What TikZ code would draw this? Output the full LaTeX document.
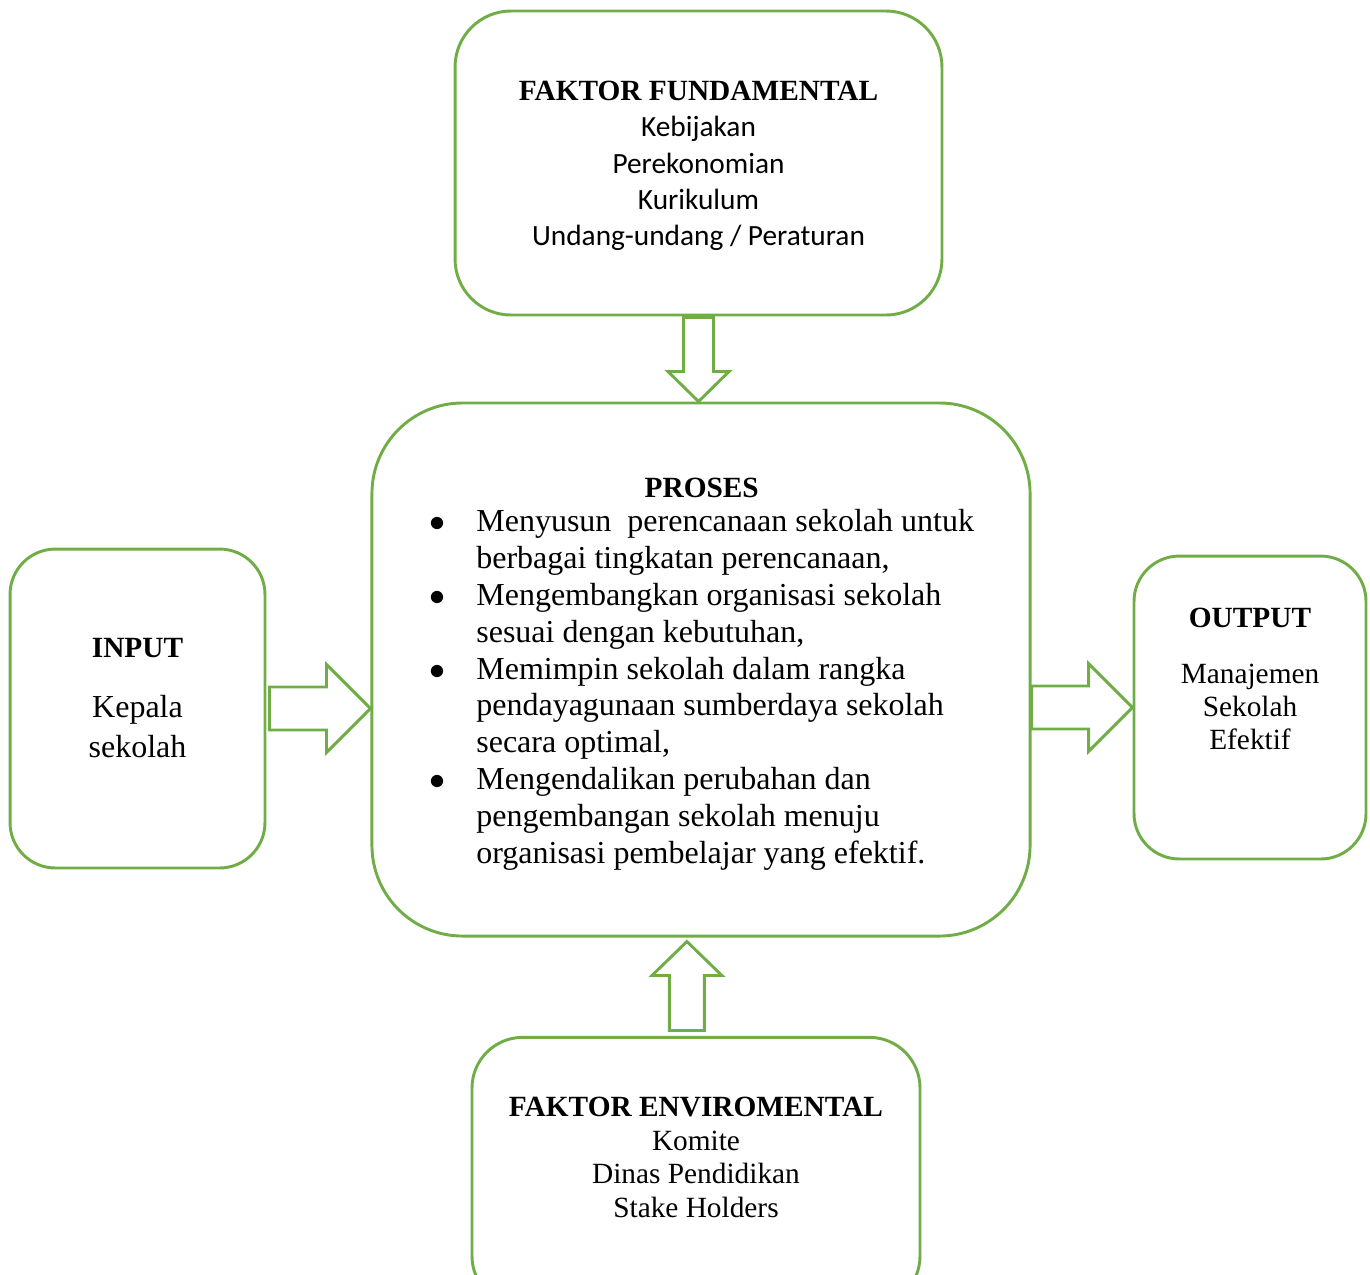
\documentclass[tikz,border=0pt]{standalone}
\usepackage{fontspec}
\setmainfont{Liberation Serif}
\newfontfamily\calibrifont{Carlito}
\definecolor{boxgreen}{RGB}{112,173,71}
\begin{document}
\begin{tikzpicture}
	[x=0.375pt, y=-0.375pt,
	every node/.style={inner sep=0pt, align=center},
	box/.style={draw=boxgreen, line width=1.1pt, rectangle},
	blockarrow/.style={draw=boxgreen, line width=1.1pt, line join=miter, fill=white}]
	\useasboundingbox (0,0) rectangle (1370,1274);
	% boxes
	\node [box, rounded corners=21pt, minimum width=182.6pt, minimum height=114pt] (fund) at (698.5,163) {};
	\node [box, rounded corners=34pt, minimum width=246.8pt, minimum height=199.9pt] (proses) at (701,669.5) {};
	\node [box, rounded corners=17pt, minimum width=95.6pt, minimum height=119.6pt] (input) at (137.5,708.5) {};
	\node [box, rounded corners=17pt, minimum width=87pt, minimum height=113.6pt] (output) at (1250,707.5) {};
	\node [box, rounded corners=19pt, minimum width=168pt, minimum height=101pt] (env) at (696,1172) {};
	% texts
	\node [font=\fontsize{11}{13.6}\selectfont] (fundtext) at (698.5,166) {\textbf{FAKTOR FUNDAMENTAL}\\
		{\calibrifont Kebijakan}\\ {\calibrifont Perekonomian}\\ {\calibrifont Kurikulum}\\
		{\calibrifont Undang-undang / Peraturan}};
	\node [font=\fontsize{12}{13.8}\selectfont] (prosestext) at (701.7,673) {%
		\begin{tabular}{@{}p{17.6pt}@{}l@{}}
		\multicolumn{2}{c}{\fontsize{11}{13.8}\selectfont\textbf{PROSES}}\\[-1pt]
		$\bullet$ & Menyusun\ \ perencanaan sekolah untuk\\
		& berbagai tingkatan perencanaan,\\
		$\bullet$ & Mengembangkan organisasi sekolah\\
		& sesuai dengan kebutuhan,\\
		$\bullet$ & Memimpin sekolah dalam rangka\\
		& pendayagunaan sumberdaya sekolah\\
		& secara optimal,\\
		$\bullet$ & Mengendalikan perubahan dan\\
		& pengembangan sekolah menuju\\
		& organisasi pembelajar yang efektif.
		\end{tabular}};
	\node [font=\fontsize{12}{15}\selectfont] (inputtext) at (137.5,698.5) {{\fontsize{11}{15}\selectfont\textbf{INPUT}}\\[7.5pt]
		Kepala\\ sekolah};
	\node [font=\fontsize{11}{12.5}\selectfont] (outputtext) at (1250,678.8) {\textbf{OUTPUT}\\[8.5pt]
		Manajemen\\ Sekolah\\ Efektif};
	\node [font=\fontsize{11}{12.6}\selectfont] (envtext) at (696,1157.3) {\textbf{FAKTOR ENVIROMENTAL}\\
		Komite\\ Dinas Pendidikan\\ Stake Holders};
	% block arrows
	\coordinate (tipin) at (proses.west |- input.east);
	\coordinate (tipenv) at ([xshift=-3.4pt]env.north);
	\foreach \tip in {tipin, output.west}
		\draw [blockarrow] (\tip) -- ++(-44,-44) -- ++(0,22.5) -- ++(-57,0) -- ++(0,43)
			-- ++(57,0) -- ++(0,22.5) -- cycle;
	\draw [blockarrow] (fund.south |- proses.north) -- ++(-30.5,-30) -- ++(15.5,0) -- ++(0,-54)
		-- ++(30,0) -- ++(0,54) -- ++(15.5,0) -- cycle;
	\draw [blockarrow] (tipenv |- proses.south) ++(0,4) -- ++(-35,34) -- ++(17.5,0) -- ++(0,55)
		-- ++(35,0) -- ++(0,-55) -- ++(17.5,0) -- cycle;
\end{tikzpicture}
\end{document}
